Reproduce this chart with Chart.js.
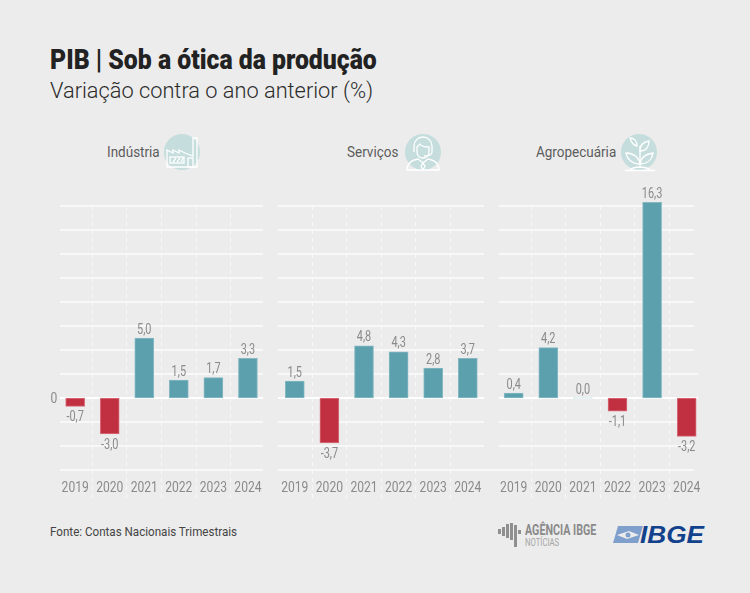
<!DOCTYPE html>
<html lang="pt-BR">
<head>
<meta charset="utf-8">
<title>PIB | Sob a ótica da produção</title>
<script src="https://cdn.jsdelivr.net/npm/chart.js@4"></script>
<style>
html,body{margin:0;padding:0;background:#ececec;}
#page{position:relative;width:750px;height:593px;overflow:hidden;background:#ececec;font-family:"Roboto",sans-serif;}
#page canvas{position:absolute;left:0;top:0;}
.txt{position:absolute;white-space:nowrap;transform-origin:left top;line-height:1;}
#title{left:50px;top:47px;font-size:27px;font-weight:900;color:#222;transform:scaleX(.918);}
#subtitle{left:50px;top:79px;font-size:22.5px;font-weight:300;color:#2a2a2a;transform:scaleX(.968);}
.panel-name{top:145px;font-size:15.5px;color:#5c5c5c;transform:scaleX(.87);}
#source{left:50px;top:525px;font-size:13.5px;color:#444;transform:scaleX(.86);}
svg{position:absolute;overflow:visible;}
</style>
</head>
<body>
<div id="page">
  <div class="txt" id="title">PIB | Sob a ótica da produção</div>
  <div class="txt" id="subtitle">Variação contra o ano anterior (%)</div>

  <div class="txt panel-name" style="left:107px">Indústria</div>
  <div class="txt panel-name" style="left:347px">Serviços</div>
  <div class="txt panel-name" style="left:536px">Agropecuária</div>

  <!-- icones -->
  <svg style="left:164px;top:134px" width="36" height="36" fill="none" stroke="#fff" stroke-width="1.3">
    <circle cx="18" cy="18" r="18" fill="#c5dddd" stroke="none"/>
    <path d="M3 33V16l6 3v-3l6 3v-3l6 3 8 3V4h4v29z"/>
    <rect x="6" y="23" width="14" height="6"/>
    <path d="M9 28l3-4M13 28l3-4M17 28l2-4"/>
    <rect x="24" y="24" width="5" height="9"/>
  </svg>
  <svg style="left:405px;top:134px" width="36" height="36" fill="none" stroke="#fff" stroke-width="1.3">
    <circle cx="18" cy="18" r="18" fill="#c5dddd" stroke="none"/>
    <path d="M12 13v5c0 4 3 6 6 6s6-2 6-6v-5c-4 0-8-1-9-3-1 1-2 2-3 3z"/>
    <path d="M9 18v-6a9 9 0 0 1 18 0v6M27 18c0 3-3 4-8 4"/>
    <path d="M2 36c0-7 5-10 11-11l5 4 5-4c6 1 11 4 11 11zM18 29l-2 3 2 4 2-4z"/>
  </svg>
  <svg style="left:621px;top:134px" width="36" height="36" fill="none" stroke="#fff" stroke-width="1.3">
    <circle cx="18" cy="18" r="18" fill="#c5dddd" stroke="none"/>
    <path d="M4 36.500h30M9 36c4-4 16-4 20 0M19 34V12"/>
    <path d="M19 30c-8 0-13-5-14-11 7 0 13 4 14 11zM19 30c1-7 5-10 13-11-1 7-6 11-13 11zM19 17c0-6 3-9 9-10 0 6-3 10-9 10zM16 12c-4-1-6-4-7-8 4 0 7 3 7 8z"/>
  </svg>

  <div class="txt" id="source">Fonte: Contas Nacionais Trimestrais</div>

  <!-- logos -->
  <svg style="left:498px;top:523px" width="24" height="24" fill="#8f8f8f">
    <path d="M0 6h3v5H0zM4 4h3v9H4zM8 1h3v14H8zM12 0h3v17h-3zM16 2h3v22h-3zM20 7h3v4h-3z"/>
  </svg>
  <div class="txt" style="left:525px;top:523px;font-size:15.500px;font-weight:700;color:#8a8a8a;transform:scaleX(.69);">AGÊNCIA IBGE</div>
  <div class="txt" style="left:525px;top:537px;font-size:11px;color:#a5a5a5;transform:scaleX(.7);">NOTÍCIAS</div>
  <svg style="left:613px;top:526px" width="30" height="17">
    <path d="M5 0h25l-5 17H0z" fill="#7f9fcd"/>
    <path d="M4 9l12-4 10 4-12 4z" fill="#ececec"/>
    <circle cx="15" cy="9" r="2.500" fill="#7f9fcd"/>
  </svg>
  <div class="txt" style="left:640px;top:523px;font-family:'Liberation Sans';font-size:24px;font-weight:bold;font-style:italic;color:#12428c;transform:scaleX(1.09);">IBGE</div>

  <canvas id="chart_industria" width="750" height="593"></canvas>
  <canvas id="chart_servicos" width="750" height="593"></canvas>
  <canvas id="chart_agro" width="750" height="593"></canvas>
</div>

<script>
const years = ["2019","2020","2021","2022","2023","2024"];
const industria = [-0.7,-3.0,5.0,1.5,1.7,3.3];
const servicos = [1.5,-3.7,4.8,4.3,2.8,3.7];
// no original as barras de servicos sao mais baixas que os rotulos, alturas
const servicosBars = [1.4,-3.75,4.35,3.85,2.5,3.3];
const agropecuaria = [0.4,4.2,0.0,-1.1,16.3,-3.2];
const gridTicks = [-6,-4,-2,0,2,4,6,8,10,12,14,16];

const font_name = '"Roboto",sans-serif';
const text_gray = "#8a8a8a";

function narrowText(c, txt, x, y, squeeze){
    c.save();
    c.translate(x, y);
    c.scale(squeeze, 1);
    c.fillText(txt, 0, 0);
    c.restore();
}

const panelPlugin = {
    id: "panel",
    beforeDatasetsDraw(chart, args, opts){
        const c = chart.ctx, x = chart.scales.x, y = chart.scales.y;
        c.save();
        gridTicks.forEach(t => {
            const py = y.getPixelForValue(t);
            const ends = opts.gridEnds(t);
            c.beginPath();
            c.strokeStyle = t === 0 ? "#ffffff" : "#f8f8f8";
            c.lineWidth = 2;
            c.moveTo(ends[0], py);
            c.lineTo(ends[1], py);
            c.stroke();
        });
        c.strokeStyle = "#f8f8f8";
        c.lineWidth = 1;
        c.setLineDash([4,4]);
        for(let i=1;i<years.length;i++){
            const px = Math.floor((x.getPixelForValue(i-1)+x.getPixelForValue(i))/2)+0.5;
            c.beginPath();
            c.moveTo(px, y.getPixelForValue(16));
            c.lineTo(px, 498);
            c.stroke();
        }
        c.restore();
    },
    afterDatasetsDraw(chart, args, opts){
        const c = chart.ctx, x = chart.scales.x, y = chart.scales.y;
        const bars = chart.data.datasets[0].data;
        c.save();
        c.fillStyle = text_gray;
        c.textAlign = "center";
        c.textBaseline = "alphabetic";
        opts.labels.forEach((v,i) => {
            const txt = v.toFixed(1).replace(".",",");
            const py = y.getPixelForValue(bars[i]);
            c.font = "14px " + font_name;
            narrowText(c, txt, x.getPixelForValue(i), v < 0 ? py+15 : py-4.5, 0.78);
            c.font = "15.5px " + font_name;
            narrowText(c, years[i], x.getPixelForValue(i), 492, 0.78);
        });
        if(opts.showZero){
            c.font = "15.5px " + font_name;
            narrowText(c, "0", 54, y.getPixelForValue(0)+4.5, 0.78);
        }
        c.restore();
    }
};

function makePanel(id, bars, labels, left, right, gridEnds, showZero){
    new Chart(document.getElementById(id).getContext("2d"), {
        type: "bar",
        data: {
            labels: years,
            datasets: [{
                data: bars,
                backgroundColor: bars.map(v => v === 0 ? "#cfe3e6" : v < 0 ? "#c03040" : "#5ca0ae"),
                borderColor: bars.map(v => v === 0 ? "#cfe3e6" : v < 0 ? "#d8707c" : "#85b8c3"),
                borderWidth: 1,
                borderSkipped: false,
                barThickness: 19,
                minBarLength: 1
            }]
        },
        options: {
            responsive: false,
            animation: false,
            layout: { padding: { left: left, right: 750-right, top: 182, bottom: 123 } },
            plugins: {
                legend: { display: false },
                tooltip: { enabled: false },
                panel: { labels: labels, gridEnds: gridEnds, showZero: showZero }
            },
            scales: {
                x: { display: false },
                y: { display: false, min: -6, max: 18 }
            }
        },
        plugins: [panelPlugin]
    });
}

makePanel("chart_industria", industria, industria, 57.9, 265.2, t => [60,263], true);
makePanel("chart_servicos", servicosBars, servicos, 277.5, 485.1, t => [278, t === -6 ? 499 : 484], false);
makePanel("chart_agro", agropecuaria, agropecuaria, 496.4, 704, t => [499, t === 0 || t === 2 ? 698 : 694], false);
</script>
</body>
</html>
